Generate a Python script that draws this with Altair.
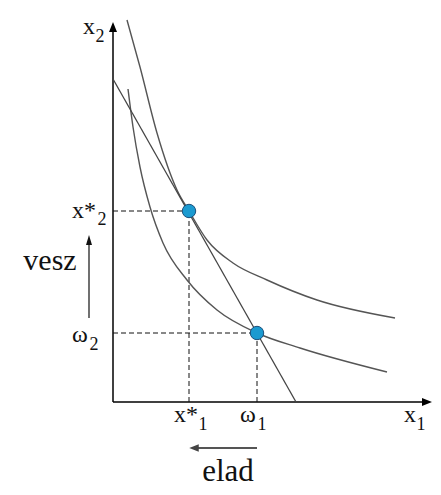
import altair as alt
import pandas as pd

# ---- values (economic units; origin at axes corner) ----
upper_x = [1.4, 2.7, 4.4, 6.4, 7.6, 9.4, 12.0, 15.4, 20.4, 28.2]
upper_y = [38.2, 33.5, 26.9, 21.2, 19.1, 16.2, 13.9, 12.2, 10.2, 8.4]
lower_x = [1.5, 2.0, 2.7, 3.7, 5.0, 7.4, 10.4, 14.4, 18.7, 27.4]
lower_y = [31.3, 27.5, 23.5, 19.5, 15.9, 12.2, 9.2, 6.9, 5.4, 3.0]
budget_x = [0.0, 18.3]
budget_y = [32.3, 0.0]
optimum = [7.6, 19.1]     # (x*1, x*2)
endowment = [14.4, 6.9]   # (ω1, ω2)
x_axis_end = 31.9
y_axis_end = 38.0

SERIF = "Liberation Serif"
U = 0.1  # data units per pixel

W, H = 425, 479
xs = alt.Scale(domain=[-10.5, 32.0], nice=False, zero=False)
ys = alt.Scale(domain=[-8.5, 39.4], nice=False, zero=False)


def X(f="x"):
    return alt.X(f"{f}:Q", scale=xs, axis=None)


def Y(f="y"):
    return alt.Y(f"{f}:Q", scale=ys, axis=None)


def seg(x1, y1, x2, y2, color="#000000", width=1.0, dash=None):
    df = pd.DataFrame({"x": [x1], "y": [y1], "x2": [x2], "y2": [y2]})
    kw = dict(color=color, strokeWidth=width)
    if dash:
        kw["strokeDash"] = dash
    return alt.Chart(df).mark_rule(**kw).encode(
        x=X(), y=Y(), x2="x2:Q", y2="y2:Q")


def head(x, y, shape, color="#000000", size=100):
    df = pd.DataFrame({"x": [x], "y": [y]})
    return alt.Chart(df).mark_point(shape=shape, filled=True, color=color,
                                    size=size, opacity=1, strokeWidth=0).encode(x=X(), y=Y())


def label(text, x, y, dx, dy, size, color="#111111", font=SERIF):
    df = pd.DataFrame({"x": [x], "y": [y], "t": [text]})
    return alt.Chart(df).mark_text(font=font, fontSize=size, dx=dx, dy=dy,
                                   align="center", baseline="alphabetic",
                                   color=color).encode(x=X(), y=Y(), text="t:N")


def curve(xv, yv, color, width):
    df = pd.DataFrame({"x": xv, "y": yv})
    return alt.Chart(df).mark_line(color=color, strokeWidth=width,
                                   interpolate="monotone").encode(x=X(), y=Y())


UP = "M0,-1L0.8,1L-0.8,1Z"
RIGHT = "M1,0L-1,0.8L-1,-0.8Z"
LEFT = "M-1,0L1,0.8L1,-0.8Z"
UP_N = "M0,-1L0.6,1L-0.6,1Z"

ox, oy = optimum
ex, ey = endowment

layers = [
    # axes
    seg(0, 0, 0, y_axis_end - 5 * U, width=1.5),
    head(0, y_axis_end - 5 * U, UP),
    seg(0, 0, x_axis_end - 5 * U, 0, width=1.5),
    head(x_axis_end - 5 * U, 0, RIGHT),
    # dashed guides
    seg(0, oy, ox, oy, color="#111111", dash=[5, 3]),
    seg(ox, 0, ox, oy, color="#111111", dash=[5, 3]),
    seg(0, ey, ex, ey, color="#111111", dash=[5, 3]),
    seg(ex, 0, ex, ey, color="#111111", dash=[5, 3]),
    # curves
    curve(upper_x, upper_y, "#555555", 1.4),
    curve(lower_x, lower_y, "#555555", 1.4),
    curve(budget_x, budget_y, "#444444", 1.3),
    # points
    alt.Chart(pd.DataFrame({"x": [ox, ex], "y": [oy, ey]})).mark_point(
        filled=True, size=180, color="#1B9AD0", stroke="#1C4F7A",
        strokeWidth=1, opacity=1).encode(x=X(), y=Y()),
    # "vesz" arrow
    seg(-24 * U, ey + 15 * U, -24 * U, oy - 29 * U, color="#111111", width=1.2),
    head(-24 * U, oy - 29 * U, UP_N, color="#111111"),
    # "elad" arrow
    seg(ex, -46 * U, ox + 5 * U, -46 * U, color="#555555", width=2),
    head(ox + 5 * U, -46 * U, LEFT, color="#444444", size=90),
    # labels
    label("x", 0, y_axis_end, -24, 12, 24),
    label("2", 0, y_axis_end, -13, 20, 18),
    label("x*", 0, oy, -29, 7, 24),
    label("2", 0, oy, -11, 14, 18),
    label("ω", 0, ey, -33, 9, 24),
    label("2", 0, ey, -19, 17, 18),
    label("x*", ox, 0, -3, 20, 24),
    label("1", ox, 0, 14, 28, 18),
    label("ω", ex, 0, -9, 20, 24),
    label("1", ex, 0, 5, 28, 18),
    label("x", x_axis_end, 0, -22, 20, 24),
    label("1", x_axis_end, 0, -11, 28, 18),
    label("vesz", 0, ey, -63, -63, 30),
    label("elad", (ox + ex) / 2, 0, 5, 79, 31),
]

chart = alt.layer(*layers).properties(
    width=W, height=H,
    autosize=alt.AutoSizeParams(type="none"),
    padding=0,
    background="#ffffff",
).configure_view(stroke=None)

chart.save("out.html", embed_options={"renderer": "svg", "actions": False})
